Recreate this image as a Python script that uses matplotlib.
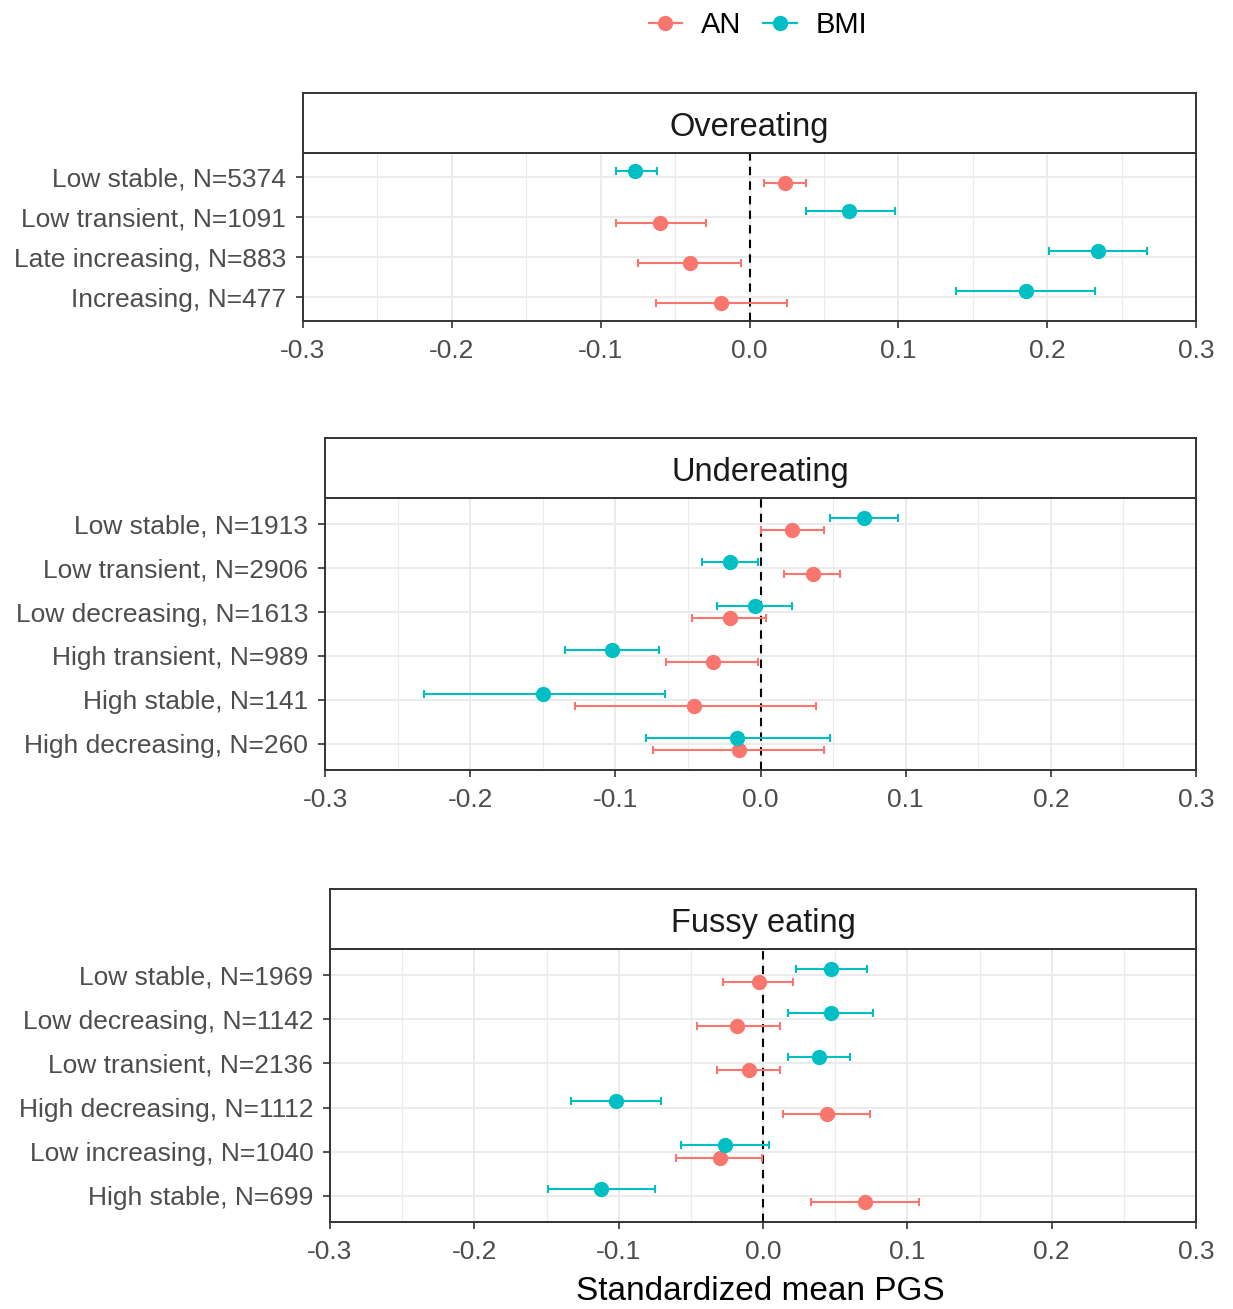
import matplotlib
matplotlib.use("Agg")
import matplotlib.pyplot as plt
from matplotlib.lines import Line2D
import numpy as np

plt.rcParams['font.family'] = ['Liberation Sans', 'DejaVu Sans']

AN_COLOR = '#F8766D'
BMI_COLOR = '#00BFC4'

# ---- data ----
over_labels = ['Low stable, N=5374', 'Low transient, N=1091',
               'Late increasing, N=883', 'Increasing, N=477']
over_an = [0.024, -0.060, -0.040, -0.019]
over_an_lo = [0.010, -0.090, -0.075, -0.063]
over_an_hi = [0.038, -0.029, -0.006, 0.025]
over_bmi = [-0.077, 0.067, 0.234, 0.186]
over_bmi_lo = [-0.090, 0.038, 0.201, 0.139]
over_bmi_hi = [-0.062, 0.098, 0.267, 0.232]

under_labels = ['Low stable, N=1913', 'Low transient, N=2906',
                'Low decreasing, N=1613', 'High transient, N=989',
                'High stable, N=141', 'High decreasing, N=260']
under_an = [0.022, 0.036, -0.021, -0.033, -0.046, -0.015]
under_an_lo = [0.000, 0.016, -0.047, -0.065, -0.128, -0.074]
under_an_hi = [0.044, 0.055, 0.004, -0.002, 0.038, 0.044]
under_bmi = [0.071, -0.021, -0.004, -0.102, -0.150, -0.016]
under_bmi_lo = [0.048, -0.040, -0.030, -0.135, -0.232, -0.079]
under_bmi_hi = [0.095, -0.002, 0.022, -0.070, -0.066, 0.048]

fussy_labels = ['Low stable, N=1969', 'Low decreasing, N=1142',
                'Low transient, N=2136', 'High decreasing, N=1112',
                'Low increasing, N=1040', 'High stable, N=699']
fussy_an = [-0.003, -0.018, -0.010, 0.044, -0.030, 0.071]
fussy_an_lo = [-0.028, -0.046, -0.032, 0.014, -0.060, 0.033]
fussy_an_hi = [0.021, 0.012, 0.012, 0.074, -0.001, 0.108]
fussy_bmi = [0.047, 0.047, 0.039, -0.102, -0.026, -0.112]
fussy_bmi_lo = [0.023, 0.017, 0.017, -0.133, -0.057, -0.149]
fussy_bmi_hi = [0.072, 0.076, 0.060, -0.071, 0.004, -0.075]

xticks = [-0.3, -0.2, -0.1, 0.0, 0.1, 0.2, 0.3]
xticklabels = ['-0.3', '-0.2', '-0.1', '0.0', '0.1', '0.2', '0.3']

W, H = 1233, 1309
fig = plt.figure(figsize=(W / 100, H / 100), dpi=100)

GRID = '#EBEBEB'
BORDER = '#333333'
TICKTXT = '#4D4D4D'


def panel(left, top, bottom, title, labels, an, an_lo, an_hi,
          bmi, bmi_lo, bmi_hi, strip_h=60):
    l = left / W
    w = 1196 / W - l
    b = 1 - bottom / H
    h = (bottom - top) / H
    ax = fig.add_axes([l, b, w, h])
    n = len(labels)
    ypos = np.arange(n)[::-1].astype(float)
    dodge = 0.14

    for xm in np.arange(-0.25, 0.3, 0.1):
        ax.axvline(xm, color=GRID, lw=0.8, zorder=0)
    for xt in xticks:
        ax.axvline(xt, color=GRID, lw=1.4, zorder=0)
    for y in ypos:
        ax.axhline(y, color=GRID, lw=1.4, zorder=0)
    ax.axvline(0, color='black', lw=1.5, ls=(0, (4, 3)), zorder=1)

    for vals, lo, hi, col, off in [(an, an_lo, an_hi, AN_COLOR, -dodge),
                                   (bmi, bmi_lo, bmi_hi, BMI_COLOR, dodge)]:
        vals = np.array(vals)
        err = [vals - np.array(lo), np.array(hi) - vals]
        ax.errorbar(vals, ypos + off, xerr=err, fmt='o', color=col,
                    ms=10, elinewidth=1.5, capsize=3, capthick=1.5, zorder=3)

    ax.set_xlim(-0.3, 0.3)
    ax.set_ylim(-0.6, n - 0.4)
    ax.set_xticks(xticks)
    ax.set_xticklabels(xticklabels)
    ax.set_yticks(ypos)
    ax.set_yticklabels(labels)
    ax.tick_params(axis='both', colors=BORDER, labelcolor=TICKTXT,
                   labelsize=19, length=5, width=1.2)
    ax.tick_params(axis='x', pad=8)
    ax.tick_params(axis='y', pad=7)
    for s in ax.spines.values():
        s.set_color(BORDER)
        s.set_linewidth(1.4)

    sax = fig.add_axes([l, 1 - top / H, w, strip_h / H])
    sax.set_xticks([])
    sax.set_yticks([])
    for s in sax.spines.values():
        s.set_color(BORDER)
        s.set_linewidth(1.4)
    sax.text(0.5, 0.42, title, ha='center', va='center', fontsize=23.5,
             color='#1A1A1A', transform=sax.transAxes)
    return ax


panel(303, 153, 321, 'Overeating', over_labels, over_an, over_an_lo,
      over_an_hi, over_bmi, over_bmi_lo, over_bmi_hi)
panel(325, 498, 770, 'Undereating', under_labels, under_an, under_an_lo,
      under_an_hi, under_bmi, under_bmi_lo, under_bmi_hi)
ax3 = panel(330, 949, 1222, 'Fussy eating', fussy_labels, fussy_an,
            fussy_an_lo, fussy_an_hi, fussy_bmi, fussy_bmi_lo, fussy_bmi_hi)

fig.text(760 / W, 1 - 1292 / H, 'Standardized mean PGS', ha='center',
         va='center', fontsize=24, color='black')

handles = [Line2D([], [], color=AN_COLOR, marker='o', ms=10, lw=1.6),
           Line2D([], [], color=BMI_COLOR, marker='o', ms=10, lw=1.6)]
fig.legend(handles, ['AN', 'BMI'], loc='center', ncol=2,
           bbox_to_anchor=(758 / W, 1 - 25 / H), frameon=False,
           fontsize=21, handlelength=1.15, columnspacing=0.75,
           handletextpad=0.65)

fig.savefig('out.png', dpi=100)
